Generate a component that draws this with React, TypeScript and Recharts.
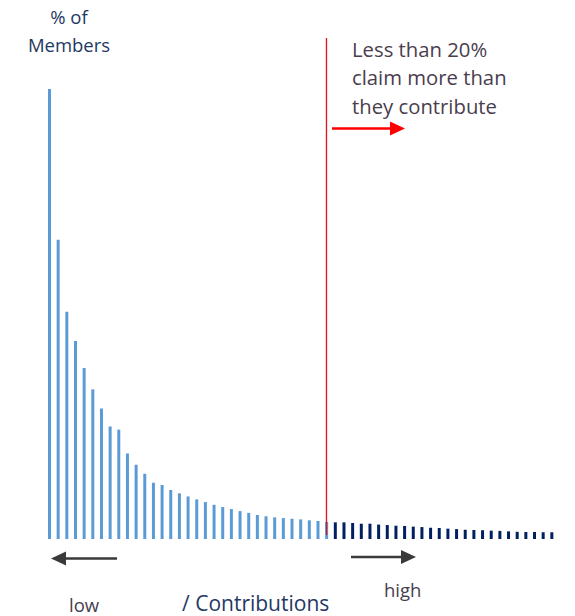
import { BarChart, Bar, Cell, XAxis, YAxis, ReferenceLine } from "recharts";

// share of members (%) per contribution band, lowest band first
const contributorShares = [
  20.0, 13.3, 10.1, 8.8, 7.6, 6.65, 5.8, 5.0, 4.86, 3.8, 3.3, 2.9, 2.5, 2.4,
  2.18, 2.03, 1.89, 1.76, 1.64, 1.52, 1.42, 1.33, 1.24, 1.16, 1.07, 1.01, 0.96,
  0.93, 0.9, 0.87, 0.83, 0.8, 0.76,
];
// bands where members claim more than they contribute
const claimantShares = [
  0.74, 0.74, 0.71, 0.68, 0.68, 0.64, 0.62, 0.59, 0.58, 0.55, 0.53, 0.5, 0.49,
  0.46, 0.44, 0.41, 0.4, 0.39, 0.37, 0.36, 0.34, 0.32, 0.31, 0.31, 0.3, 0.3,
];

const noteLines = ["Less than 20%", "claim more than", "they contribute"];
const yTitle = ["% of", "Members"];

const data = [
  ...contributorShares.map((share, i) => ({ rank: i + 1, share, claims: false })),
  ...claimantShares.map((share, i) => ({
    rank: contributorShares.length + i + 1,
    share,
    claims: true,
  })),
];

const font = "'Open Sans', sans-serif";
const navy = "#1F3864";
const plum = "#4A3D4E";

const Arrow = ({ x1, x2, y, color, w }: { x1: number; x2: number; y: number; color: string; w: number }) => {
  const dir = x2 > x1 ? 1 : -1;
  const head = 15;
  const base = x2 - dir * head;
  return (
    <g>
      <line x1={x1} y1={y} x2={base + dir * 2} y2={y} stroke={color} strokeWidth={w} />
      <polygon points={`${x2},${y} ${base},${y - 7} ${base},${y + 7}`} fill={color} />
    </g>
  );
};

export default function App() {
  return (
    <div style={{ position: "absolute", left: 0, top: 0, width: 575, height: 616, background: "#fff" }}>
      <BarChart
        width={575}
        height={616}
        data={data}
        barSize={3}
        margin={{ top: 89, right: 19, left: 45, bottom: 77 }}
      >
        <XAxis dataKey="rank" hide />
        <YAxis domain={[0, 20]} hide />
        <Bar dataKey="share" isAnimationActive={false}>
          {data.map((d) => (
            <Cell key={d.rank} fill={d.claims ? "#002060" : "#5B9BD5"} />
          ))}
        </Bar>
        <ReferenceLine
          segment={[
            { x: contributorShares.length, y: 0.18 },
            { x: contributorShares.length, y: 22.27 },
          ]}
          stroke="#E01018"
          strokeWidth={1.3}
          ifOverflow="visible"
        />
      </BarChart>
      <svg
        width={575}
        height={616}
        style={{ position: "absolute", left: 0, top: 0, pointerEvents: "none" }}
        fontFamily={font}
        fontSize={18.5}
      >
        {yTitle.map((t, i) => (
          <text key={t} x={69} y={24 + i * 27.5} textAnchor="middle" fill={navy}>
            {t}
          </text>
        ))}
        {noteLines.map((t, i) => (
          <text key={t} x={352} y={57} fontSize={20.3} fill={plum} dy={i * 28.3}>
            {t}
          </text>
        ))}
        <Arrow x1={332} x2={405} y={128.5} color="#FF0000" w={2.5} />
        <Arrow x1={117} x2={51} y={558.5} color="#3A3A3A" w={2.5} />
        <Arrow x1={351} x2={416} y={557} color="#3A3A3A" w={2.5} />
        <text x={69} y={612} fill={plum}>low</text>
        <text x={182} y={611} fontSize={21} fill={navy}>/ Contributions</text>
        <text x={384} y={597} fill={plum}>high</text>
      </svg>
    </div>
  );
}
